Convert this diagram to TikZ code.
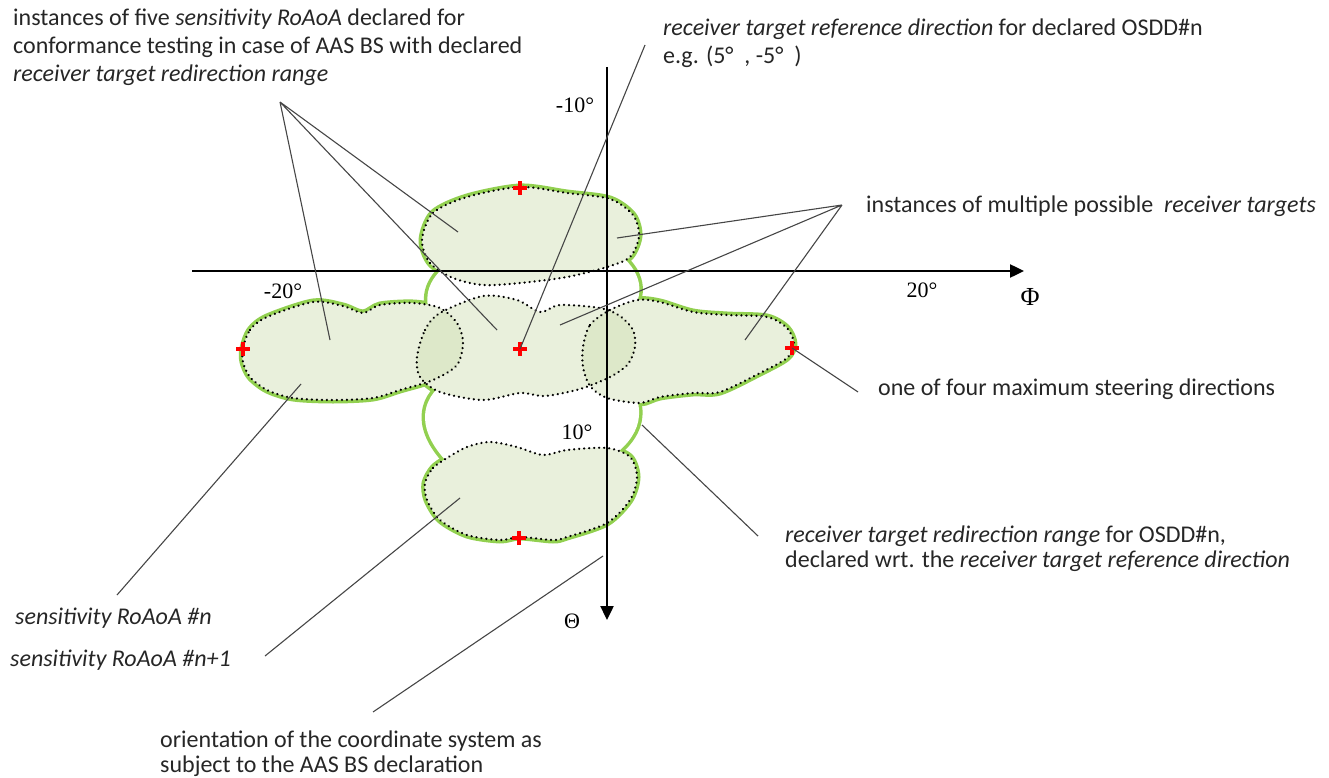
\documentclass[tikz,border=0pt]{standalone}
\usepackage{fontspec}
\setmainfont{Carlito}
\newfontfamily\axisfont{Liberation Serif}
\usetikzlibrary{arrows.meta}
\definecolor{rangegreen}{RGB}{146,208,80}
\definecolor{blobfill}{RGB}{208,223,178}
\definecolor{leadgray}{RGB}{70,70,70}
\tikzset{
  rangeline/.style={draw=rangegreen, line width=7pt, line join=round},
  blob/.style={fill=blobfill, fill opacity=0.45},
  dotline/.style={draw=black, line width=2.5pt, dash pattern=on 0.01pt off 5pt, line cap=round},
  leader/.style={draw=leadgray, line width=1.1pt},
  cross/.style={draw=red, line width=3.4pt},
  axis/.style={line width=2.4pt, -{Triangle[length=14pt,width=13pt]}},
  lbl/.style={inner sep=0pt, anchor=north west, align=left, text=black!85, font=\fontsize{24}{28}\selectfont},
  deg/.style={inner sep=0pt, font=\axisfont\fontsize{22}{24}\selectfont},
}
% outlines of the sensitivity RoAoA instances
\newcommand{\tgttop}{plot[smooth cycle] coordinates {(422,240) (433,213) (467,197) (520,187) (567,193) (610,199) (633,215) (639,236) (630,257) (607,267) (567,277) (520,283) (483,285) (453,278) (430,263)}}
\newcommand{\tgtleft}{plot[smooth cycle] coordinates {(243,348) (250,330) (267,317) (313,302) (343,306) (363,313) (380,305) (413,303) (440,308) (457,323) (463,342) (457,365) (433,380) (400,390) (373,398) (333,400) (293,398) (267,390) (250,377) (243,362)}}
\newcommand{\tgtmid}{plot[smooth cycle] coordinates {(417,357) (425,330) (440,313) (483,296) (517,300) (540,312) (560,305) (600,308) (620,316) (633,330) (635,347) (628,364) (610,377) (580,389) (545,396) (520,393) (483,400) (440,392) (420,377)}}
\newcommand{\tgtright}{plot[smooth cycle] coordinates {(583,347) (590,325) (610,310) (637,300) (660,302) (693,312) (727,315) (767,317) (787,328) (794,344) (787,358) (760,373) (720,392) (693,393) (660,397) (640,403) (607,398) (590,386) (583,367)}}
\newcommand{\tgtbot}{plot[smooth cycle] coordinates {(425,483) (433,468) (447,458) (467,447) (490,442) (517,447) (543,455) (567,450) (607,448) (630,457) (637,477) (630,500) (607,523) (567,537) (553,540) (520,537) (500,540) (467,535) (440,520) (427,500)}}
% necks of the redirection range
\newcommand{\neckup}{(455,258) .. controls (440,270) and (420,285) .. (430,315) -- (625,320) .. controls (645,300) and (645,275) .. (620,255) -- cycle}
\newcommand{\necklow}{(445,382) .. controls (420,400) and (415,430) .. (450,465) -- (600,465) .. controls (640,440) and (648,415) .. (630,382) -- cycle}

\begin{document}
\begin{tikzpicture}[x=1pt, y=-1pt]
    \useasboundingbox (0,0) rectangle (1329,778);

    % Redirection range (green outline of the union)
    \draw[rangeline] \tgttop;
    \draw[rangeline] \tgtleft;
    \draw[rangeline] \tgtmid;
    \draw[rangeline] \tgtright;
    \draw[rangeline] \tgtbot;
    \draw[rangeline] \neckup;
    \draw[rangeline] \necklow;
    \fill[white] \tgttop;
    \fill[white] \tgtleft;
    \fill[white] \tgtmid;
    \fill[white] \tgtright;
    \fill[white] \tgtbot;
    \fill[white] \neckup;
    \fill[white] \necklow;

    % Sensitivity RoAoA instances
    \fill[blob] \tgttop;
    \fill[blob] \tgtleft;
    \fill[blob] \tgtmid;
    \fill[blob] \tgtright;
    \fill[blob] \tgtbot;
    \draw[dotline] \tgttop;
    \draw[dotline] \tgtleft;
    \draw[dotline] \tgtmid;
    \draw[dotline] \tgtright;
    \draw[dotline] \tgtbot;

    % Axes
    \coordinate (phi0) at (192,271);
    \coordinate (phi1) at (1024,271);
    \coordinate (theta0) at (607,67);
    \coordinate (theta1) at (607,620);
    \draw[axis] (phi0) -- (phi1);
    \draw[axis] (theta0) -- (theta1);
    \node[deg] (tm10) at (575,105) {-10°};
    \node[deg] (pm20) at (283,291) {-20°};
    \node[deg] (pp20) at (922,290) {20°};
    \node[deg] (tp10) at (577,432) {10°};
    \node[deg, font=\axisfont\fontsize{26}{28}\selectfont] (philbl) at (1030,297) {Φ};
    \node[deg, font=\axisfont\fontsize{22}{24}\selectfont] (thetalbl) at (572,621) {Θ};

    % Reference and maximum steering directions
    \coordinate (xtop) at (520,188);
    \coordinate (xleft) at (243,349);
    \coordinate (xmid) at (520,349);
    \coordinate (xright) at (792,348);
    \coordinate (xbot) at (519,538);
    \foreach \c in {xtop,xleft,xmid,xright,xbot}
        \draw[cross] ([xshift=-7pt]\c) -- ([xshift=7pt]\c) ([yshift=-7pt]\c) -- ([yshift=7pt]\c);

    % Labels
    \node[lbl] (fivelbl) at (13,9) {instances of five \textit{sensitivity RoAoA} declared for\\conformance testing in case of AAS BS with declared\\\textit{receiver target redirection range}};
    \node[lbl] (refdirlbl) at (663,19) {\textit{receiver target reference direction} for declared OSDD\#n\\e.g. (5°\ \ , -5°\ \ )};
    \node[lbl] (multilbl) at (866,196) {instances of multiple possible\ \ \textit{receiver targets}};
    \node[lbl] (steerlbl) at (878,379) {one of four maximum steering directions};
    \node[lbl, font=\fontsize{24}{25}\selectfont] (rangelbl) at (785,526) {\textit{receiver target redirection range} for OSDD\#n,\\declared wrt. the \textit{receiver target reference direction}};
    \node[lbl] (sensnlbl) at (15,608) {\textit{sensitivity RoAoA \#n}};
    \node[lbl] (sensnnlbl) at (10,650) {\textit{sensitivity RoAoA \#n+1}};
    \node[lbl, font=\fontsize{24}{25}\selectfont] (orientlbl) at (160,731) {orientation of the coordinate system as\\subject to the AAS BS declaration};

    % Leader lines
    \coordinate (fiveapex) at (280,102);
    \coordinate (refapex) at (645,45);
    \coordinate (multiapex) at (842,205);
    \coordinate (steerend) at (858,392);
    \coordinate (rangeend) at (758,536);
    \coordinate (sensnend) at (117,595);
    \coordinate (sensnnend) at (265,656);
    \coordinate (orientend) at (373,712);
    \coordinate (inleft) at (330,340);
    \coordinate (intop) at (458,232);
    \coordinate (inmid) at (497,330);
    \coordinate (intopr) at (617,238);
    \coordinate (inmidr) at (560,325);
    \coordinate (inright) at (745,340);
    \coordinate (onrange) at (642,425);
    \coordinate (inleftb) at (301,384);
    \coordinate (inbot) at (460,498);
    \coordinate (nearaxis) at (603,556);
    \draw[leader] (fiveapex) -- (inleft) (fiveapex) -- (intop) (fiveapex) -- (inmid);
    \draw[leader] (refapex) -- (xmid);
    \draw[leader] (multiapex) -- (intopr) (multiapex) -- (inmidr) (multiapex) -- (inright);
    \draw[leader] (steerend) -- (xright);
    \draw[leader] (rangeend) -- (onrange);
    \draw[leader] (sensnend) -- (inleftb);
    \draw[leader] (sensnnend) -- (inbot);
    \draw[leader] (orientend) -- (nearaxis);
\end{tikzpicture}
\end{document}
